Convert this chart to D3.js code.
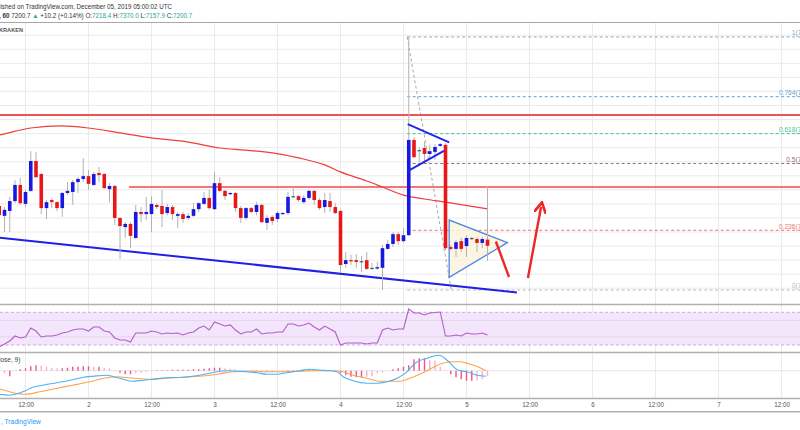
<!DOCTYPE html>
<html><head><meta charset="utf-8">
<script src="https://cdn.jsdelivr.net/npm/d3@7"></script>
<style>
html,body{margin:0;padding:0;background:#fff;overflow:hidden}
svg{display:block;font-family:"Liberation Sans",Arial,sans-serif}
</style></head><body>
<svg id="c" width="800" height="430"></svg>
<script>
// ---------------- data ----------------
const startTime = Date.UTC(2019, 11, 1, 7); // first visible hourly candle (Dec 1, 07:00 UTC)
const open = [7314,7286,7300,7328,7374,7320,7357,7442,7405,7308,
  7331,7325,7308,7351,7354,7382,7391,7399,7374,7408,
  7405,7362,7371,7280,7254,7263,7223,7297,7291,7291,
  7317,7314,7294,7311,7286,7291,7280,7286,7305,7320,
  7337,7305,7379,7357,7348,7351,7308,7280,7308,7297,
  7317,7266,7283,7277,7293,7294,7342,7342,7325,7337,
  7357,7331,7311,7328,7311,7300,7149,7160,7160,7157,
  7160,7138,7136,7138,7192,7206,7234,7214,7231,7502,
  7473,7479,7462,7468,7485,7488,7197,7192,7214,7200,
  7223,7220,7209,7218.4];
const high = [7331,7311,7340,7388,7394,7360,7470,7468,7408,7331,
  7337,7328,7354,7382,7388,7396,7450,7416,7411,7425,
  7408,7379,7374,7283,7268,7268,7317,7311,7340,7342,
  7322,7360,7320,7317,7297,7297,7294,7322,7325,7354,
  7360,7411,7396,7360,7354,7354,7314,7311,7311,7325,
  7322,7288,7288,7300,7297,7354,7368,7345,7345,7362,
  7360,7337,7351,7351,7322,7303,7183,7175,7177,7172,
  7183,7152,7155,7203,7217,7240,7240,7251,7795,7510,
  7482,7496,7488,7490,7493,7493,7203,7217,7223,7231,
  7226,7226,7226,7370.0];
const low = [7274,7240,7240,7322,7317,7311,7354,7394,7291,7277,
  7308,7300,7283,7345,7317,7351,7382,7360,7371,7382,
  7362,7325,7260,7163,7223,7194,7220,7268,7274,7240,
  7305,7254,7288,7274,7251,7266,7274,7283,7297,7317,
  7303,7303,7354,7331,7345,7297,7266,7274,7294,7288,
  7266,7246,7260,7268,7291,7288,7337,7325,7320,7331,
  7317,7303,7294,7297,7291,7126,7138,7146,7138,7126,
  7132,7132,7132,7075,7189,7197,7203,7211,7229,7450,
  7439,7436,7450,7445,7482,7189,7189,7169,7183,7169,
  7217,7183,7194,7157.9];
const close = [7288,7303,7328,7374,7322,7354,7442,7396,7308,7325,
  7325,7308,7351,7357,7382,7391,7399,7377,7405,7402,
  7365,7371,7280,7257,7263,7229,7297,7291,7297,7320,
  7311,7291,7311,7291,7291,7277,7286,7305,7322,7337,
  7308,7379,7357,7342,7351,7308,7280,7308,7297,7317,
  7268,7280,7271,7294,7294,7340,7342,7331,7337,7357,
  7331,7308,7331,7311,7294,7146,7160,7157,7155,7157,
  7135,7138,7140,7194,7206,7234,7214,7231,7502,7453,
  7473,7462,7470,7482,7490,7194,7192,7211,7192,7223,
  7223,7209,7220,7200.7];
// 100-hour SMA, sampled (hours since Dec 1 00:00 UTC)
const smaHours = [0,7,13,19,24,30,36,43,49,54,59,64,69,72,77,80,84,88,92,100];
const sma100   = [7500,7516,7536,7542,7536,7522,7508,7496,7479,7473,7465,7451,7431,7411,7385,7368,7345,7334,7325,7306];
// RSI(14) per candle
const rsi = [27.6,31.2,34.9,41,38.6,39.8,50.8,47.1,39.8,41,
  41,42.2,44.7,45.9,48.3,49.6,49.6,47.1,52,52,
  47.1,45.9,38.6,36.1,36.1,33.7,44.7,44.7,44.7,47.1,
  45.9,43.5,44.7,44,44.7,42.2,44.7,45.9,50.8,53.2,
  48.3,58.1,55.7,53.2,54.5,48.3,43.5,45.9,45.9,49.6,
  43.5,44.7,44.7,45.9,45.9,55.7,55.7,53.2,54.5,56.9,
  52,48.3,53.2,49.6,45.9,30,32.4,32.4,32.4,32.4,
  31.2,32.4,32.4,48.3,50.8,48.3,49.6,49.6,74,69.1,
  69.1,66.7,69.1,69.8,70.4,41,41,42.2,41,44.7,
  43.5,43.5,44.7,42.2];
// MACD (12, 26, close, 9)
const macdHours = [0,7.1,9,11,12,13.4,15.3,18,20.5,23,24.9,27.5,28.7,30.6,32.3,34.4,36.3,38.9,42,45.2,48.5,50.4,52.3,54.2,56.1,58,59.9,61.8,64.3,66.2,68.1,70,71.3,72.5,74.4,77,78.9,80.9,82.8,84.7,86.2,88.5,90.8,92.3,94.4,96.1,98,99.7];
const macdLine  = [-44,-47,-49,-44,-40,-33,-29,-24,-19,-13,-11,-9,-12,-17,-21,-19,-17,-14,-13,-9,-2,0,-1,-2,-4,-7,-7,-4,0,3,1,0,-2,-12,-20,-25,-25,-22,-15,-2,15,25,31,21,1,-2,-9,-11];
const signalHours = [0,7.1,9.6,12,14.8,18,21,24.3,27.5,29.4,32.5,35.7,38.9,42,45.2,48.5,51.5,54.8,58,61,64.3,67.5,70.6,72.5,74.4,77,79.5,82,83.3,85.2,87.1,89,90.9,92.9,94.8,96.7,98.6,99.7];
const signalLine  = [-33,-37,-44,-47,-42,-35,-29,-22,-14,-12,-15,-17,-15,-13,-11,-7,-2,-1,-2,-2,-1,0,0,-2,-9,-15,-21,-21,-21,-15,-7,3,13,18,18,13,6,0];
const macdHist = [-8,-5,-11,0,3,5,9,11,10,8,
  6,5,5,6,8,8,9,9,8,8,
  6,5,1,-4,-7,-7,-5,-4,-2,1,
  1,1,1,2,2,2,2,3,3,4,
  5,6,6,5,4,3,-1,-1,-1,-1,
  -2,-2,-2,-1,-1,1,1,1,2,3,
  2,1,1,1,0,-5,-9,-12,-13,-13,
  -12,-11,-5,-3,0,3,5,8,11,23,
  25,25,21,20,8,1,-7,-13,-17,-20,
  -20,-19,-17,-11];
const timeTickLabels = ["12:00","2","12:00","3","12:00","4","12:00","5","12:00","6","12:00","7","12:00"];
const fibLevels = [1, 0.764, 0.618, 0.5, 0.236, 0];
const fibColors = ["#8aa9c4", "#5fa4da", "#3cc49a", "#8f6e82", "#ef7474", "#b9b9b9"];
const fibHigh = 7795, fibLow = 7075;
const fibStartHour = 84.7, fibEndHour = 93.1;
const resistanceLevels = [7573, 7368];
const resistanceStartHours = [0, 31.7];
const trendLineHours = [0, 105.6], trendLinePrices = [7235, 7068];
const flagUpperHours = [84.8, 92.7], flagUpperPrices = [7547, 7495];
const flagLowerHours = [84.9, 91.7], flagLowerPrices = [7414, 7471];
const triangleHours = [92.7, 92.7, 103.8], trianglePrices = [7274, 7111, 7210];
const arrowDownHours = [101.6, 104.1], arrowDownPrices = [7213, 7112];
const arrowUpHours = [107.7, 110.2], arrowUpPrices = [7109, 7311];
const header1 = "lished on TradingView.com, December 05, 2019 05:00:02 UTC";
const quote = {last: "7200.7", chg: "+10.2 (+0.14%)", o: "7218.4", h: "7370.0", l: "7157.9", c: "7200.7"};

// ---------------- layout ----------------
const svg = d3.select("#c");
const hourT = h => new Date(Date.UTC(2019, 11, 1) + h * 3600e3);
const x = d3.scaleUtc().domain([hourT(0), hourT(168)]).range([-37.5, 844.5]);
const y = d3.scaleLinear().domain([7040, 7835]).range([302.3, 22.9]);
const yR = d3.scaleLinear().domain([30, 70]).range([345, 312.3]);
const yM = d3.scaleLinear().domain([0, 40]).range([370.7, 350.7]);

const MAIN = [23, 303.5], RSI = [305.5, 351.5], MACD = [353.5, 397.5];
const defs = svg.append("defs");
defs.append("clipPath").attr("id","clipMain").append("rect").attr("x",0).attr("y",MAIN[0]).attr("width",800).attr("height",MAIN[1]-MAIN[0]);
defs.append("clipPath").attr("id","clipRsi").append("rect").attr("x",0).attr("y",RSI[0]).attr("width",800).attr("height",RSI[1]-RSI[0]);
defs.append("clipPath").attr("id","clipMacd").append("rect").attr("x",0).attr("y",MACD[0]).attr("width",800).attr("height",MACD[1]-MACD[0]);
defs.append("marker").attr("id","arrowHead").attr("viewBox","0 0 10 10").attr("refX",5).attr("refY",5)
  .attr("markerWidth",5).attr("markerHeight",5).attr("orient","auto")
  .append("path").attr("d","M0,0 L9,5 L0,10").attr("fill","none").attr("stroke","#ee2626").attr("stroke-width",2.2);

const tickTimes = d3.utcHour.every(12).range(hourT(12), hourT(157));

// vertical grid across all panes
svg.append("g").selectAll("line").data(tickTimes).join("line")
  .attr("x1",d=>x(d)).attr("x2",d=>x(d)).attr("y1",23).attr("y2",398)
  .attr("stroke","#ebebeb").attr("stroke-width",1);

// ---------------- main pane ----------------
const gm = svg.append("g").attr("clip-path","url(#clipMain)");
gm.append("g").selectAll("line").data(d3.range(7080, 7840, 40)).join("line")
  .attr("x1",0).attr("x2",800).attr("y1",d=>y(d)).attr("y2",d=>y(d))
  .attr("stroke","#ebebeb");

// fib retracement
const fibPrice = l => fibLow + l * (fibHigh - fibLow);
gm.append("g").selectAll("line").data(fibLevels).join("line")
  .attr("x1",x(hourT(fibStartHour))).attr("x2",800)
  .attr("y1",d=>y(fibPrice(d))).attr("y2",d=>y(fibPrice(d)))
  .attr("stroke",(d,i)=>fibColors[i]).attr("stroke-width",1).attr("stroke-dasharray","3,2.5");
gm.append("line")
  .attr("x1",x(hourT(fibStartHour))).attr("y1",y(fibHigh))
  .attr("x2",x(hourT(fibEndHour))).attr("y2",y(fibLow))
  .attr("stroke","#a9a9a9").attr("stroke-dasharray","3,2.5");
gm.append("g").selectAll("text").data(fibLevels).join("text")
  .attr("x",820).attr("y",d=>y(fibPrice(d))-1.5).attr("text-anchor","end")
  .attr("font-size",6.6).attr("fill",(d,i)=>fibColors[i])
  .text(d=>`${d}(${fibPrice(d).toFixed(1)})`);

// triangle
const triPts = triangleHours.map((h,i)=>[x(hourT(h)), y(trianglePrices[i])]);
gm.append("path").attr("d", d3.line()(triPts)+"Z")
  .attr("fill","#fcf3df").attr("fill-opacity",0.85).attr("stroke","#4f86e0").attr("stroke-width",1.3);

// resistance lines
gm.append("g").selectAll("line").data(resistanceLevels).join("line")
  .attr("x1",(d,i)=>x(hourT(resistanceStartHours[i]))).attr("x2",800)
  .attr("y1",d=>y(d)).attr("y2",d=>y(d))
  .attr("stroke","#f04a4a").attr("stroke-opacity",(d,i)=>i===0?0.95:0.75).attr("stroke-width",2);

// 100 SMA
gm.append("path").datum(smaHours.map((h,i)=>[h, sma100[i]]))
  .attr("d", d3.line().x(d=>x(hourT(d[0]))).y(d=>y(d[1])).curve(d3.curveMonotoneX))
  .attr("fill","none").attr("stroke","#f03c3c").attr("stroke-width",1.2);

// descending trend line
gm.append("line")
  .attr("x1",x(hourT(trendLineHours[0]))).attr("y1",y(trendLinePrices[0]))
  .attr("x2",x(hourT(trendLineHours[1]))).attr("y2",y(trendLinePrices[1]))
  .attr("stroke","#1f1fe6").attr("stroke-width",2);

// candles
const candles = open.map((o,i)=>({t:hourT(7+i), o, h:high[i], l:low[i], c:close[i]}));
const bw = 3.6;
gm.append("g").selectAll("line").data(candles).join("line")
  .attr("x1",d=>x(d.t)).attr("x2",d=>x(d.t)).attr("y1",d=>y(d.h)).attr("y2",d=>y(d.l))
  .attr("stroke","#b2b2b2").attr("stroke-width",1);
gm.append("g").selectAll("rect").data(candles).join("rect")
  .attr("x",d=>x(d.t)-bw/2).attr("width",bw)
  .attr("y",d=>y(Math.max(d.o,d.c)))
  .attr("height",d=>Math.max(1.2, Math.abs(y(d.o)-y(d.c))))
  .attr("fill",d=>d.c>d.o?"#1818e0":(d.c<d.o?"#e81818":"#3b6b56"));

// flag lines
[[flagUpperHours,flagUpperPrices],[flagLowerHours,flagLowerPrices]].forEach(([hs,ps])=>{
  gm.append("line").attr("x1",x(hourT(hs[0]))).attr("y1",y(ps[0]))
    .attr("x2",x(hourT(hs[1]))).attr("y2",y(ps[1]))
    .attr("stroke","#2424ee").attr("stroke-width",2);
});
// arrows
gm.append("line").attr("x1",x(hourT(arrowDownHours[0]))).attr("y1",y(arrowDownPrices[0]))
  .attr("x2",x(hourT(arrowDownHours[1]))).attr("y2",y(arrowDownPrices[1]))
  .attr("stroke","#ee2626").attr("stroke-width",2.4);
gm.append("line").attr("x1",x(hourT(arrowUpHours[0]))).attr("y1",y(arrowUpPrices[0]))
  .attr("x2",x(hourT(arrowUpHours[1]))).attr("y2",y(arrowUpPrices[1]))
  .attr("stroke","#ee2626").attr("stroke-width",2.4).attr("marker-end","url(#arrowHead)");

gm.append("text").attr("x",-1).attr("y",32).attr("font-size",6).attr("font-weight","bold")
  .attr("fill","#555").attr("textLength",24).attr("lengthAdjust","spacingAndGlyphs").text("KRAKEN");

// ---------------- RSI pane ----------------
const gr = svg.append("g").attr("clip-path","url(#clipRsi)");
gr.append("rect").attr("x",0).attr("width",800).attr("y",yR(70)).attr("height",yR(30)-yR(70))
  .attr("fill","#f3e5fb");
gr.append("g").selectAll("line").data([40,60]).join("line")
  .attr("x1",0).attr("x2",800).attr("y1",d=>yR(d)).attr("y2",d=>yR(d)).attr("stroke","#e3d6ea");
gr.append("g").selectAll("line").data([30,70]).join("line")
  .attr("x1",0).attr("x2",800).attr("y1",d=>yR(d)).attr("y2",d=>yR(d))
  .attr("stroke","#c9a9d9").attr("stroke-dasharray","3,2.5");
gr.append("path").datum(rsi)
  .attr("d", d3.line().x((d,i)=>x(hourT(7+i))).y(d=>yR(d)))
  .attr("fill","none").attr("stroke","#b35ec9").attr("stroke-width",1.1);

// ---------------- MACD pane ----------------
const gmc = svg.append("g").attr("clip-path","url(#clipMacd)");
gmc.append("line").attr("x1",0).attr("x2",800).attr("y1",yM(0)).attr("y2",yM(0)).attr("stroke","#e6e6e6");
gmc.append("g").selectAll("line").data(macdHist).join("line")
  .attr("x1",(d,i)=>x(hourT(7+i))).attr("x2",(d,i)=>x(hourT(7+i)))
  .attr("y1",yM(0)).attr("y2",d=>yM(d))
  .attr("stroke",(d,i)=>{const p=i>0?macdHist[i-1]:d; return Math.abs(d)>=Math.abs(p)?"#f4518b":"#f8b1c9";})
  .attr("stroke-width",1.4);
gmc.append("path").datum(signalHours.map((h,i)=>[h,signalLine[i]]))
  .attr("d", d3.line().x(d=>x(hourT(d[0]))).y(d=>yM(d[1])).curve(d3.curveMonotoneX))
  .attr("fill","none").attr("stroke","#ffa34d").attr("stroke-width",1.1);
gmc.append("path").datum(macdHours.map((h,i)=>[h,macdLine[i]]))
  .attr("d", d3.line().x(d=>x(hourT(d[0]))).y(d=>yM(d[1])).curve(d3.curveMonotoneX))
  .attr("fill","none").attr("stroke","#4db2f5").attr("stroke-width",1.1);
svg.append("text").attr("x",-1).attr("y",362).attr("font-size",6.5).attr("fill","#444").text("lose, 9)");

// ---------------- separators ----------------
svg.append("line").attr("x1",0).attr("x2",800).attr("y1",22.5).attr("y2",22.5).attr("stroke","#a8a8a8");
[304.5, 352.5, 398.5, 411.7].forEach(v=>{
  svg.append("line").attr("x1",0).attr("x2",800).attr("y1",v).attr("y2",v).attr("stroke","#b0b0b0").attr("stroke-width",1.6);
});

// ---------------- time axis ----------------
const ax = svg.append("g").attr("transform","translate(0,399)")
  .call(d3.axisBottom(x).tickValues(tickTimes).tickFormat((d,i)=>timeTickLabels[i]).tickSize(0).tickPadding(4));
ax.select(".domain").remove();
ax.selectAll("text").attr("font-size",6.3).attr("fill","#555").attr("font-family","'Liberation Sans',Arial,sans-serif");

// ---------------- header / footer ----------------
svg.append("text").attr("x",-1).attr("y",8.5).attr("font-size",6.6).attr("fill","#333")
  .attr("textLength",173).attr("lengthAdjust","spacingAndGlyphs").text(header1);
const h2 = svg.append("text").attr("x",-1).attr("y",17.5).attr("font-size",6.3).attr("fill","#333");
h2.append("tspan").attr("font-weight","bold").text(", 60 ");
h2.append("tspan").text(quote.last+" ");
h2.append("tspan").attr("fill","#26a69a").text("▲ ");
h2.append("tspan").text(quote.chg+" ");
[["O:",quote.o],["H:",quote.h],["L:",quote.l],["C:",quote.c]].forEach(([k,v])=>{
  h2.append("tspan").text(k);
  h2.append("tspan").attr("fill","#26a69a").text(v+" ");
});
svg.append("text").attr("x",1).attr("y",424).attr("font-size",6.6).attr("fill","#2196f3").text(", TradingView");
</script>
</body></html>
